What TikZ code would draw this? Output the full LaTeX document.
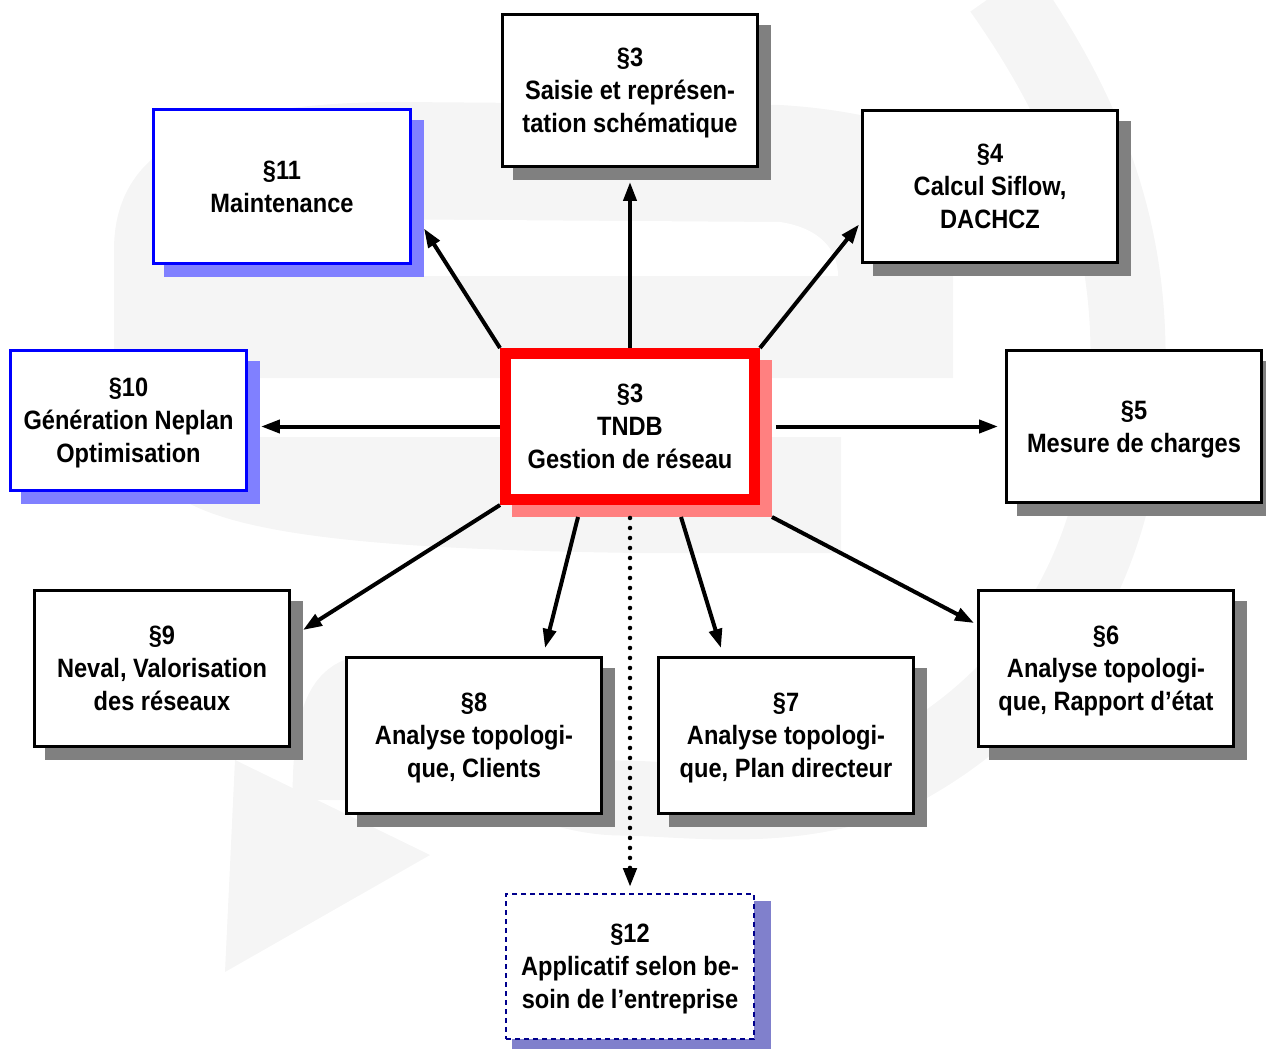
\documentclass[tikz,border=0pt]{standalone}
\usepackage{fontspec}
\newfontfamily\boxfont{Liberation Sans}[FakeStretch=0.89]
\usetikzlibrary{arrows.meta, backgrounds}

\definecolor{logogray}{HTML}{F5F5F5}
\definecolor{shadegray}{HTML}{808080}
\definecolor{lightblue}{HTML}{8080FF}
\definecolor{lightred}{HTML}{FF8080}
\definecolor{lavender}{HTML}{8080CC}
\definecolor{darkblue}{HTML}{00008C}

\begin{document}
\begin{tikzpicture}[x=0.02cm, y=-0.02cm,
    box/.style={draw, line width=0.06cm, fill=white, align=center, inner sep=0pt, text depth=0pt,
        minimum width=5.1cm, minimum height=3.04cm,
        font={\boxfont\bfseries\fontsize{15.1pt}{18.8pt}\selectfont}},
    bluebox/.style={box, draw=blue},
    arr/.style={-{Triangle[length=0.38cm, width=0.26cm]}, line width=0.08cm},
    dotarr/.style={arr, line width=0.09cm, line cap=round, dash pattern=on 0pt off 0.2cm}]
    \useasboundingbox (0,0) rectangle (1266,1050);

    \begin{scope}[on background layer]
        \fill[logogray] (114,378) -- (114,250) .. controls (114,150) and (200,102) .. (400,102)
            -- (780,105) .. controls (900,112) and (1000,150) .. (1070,230)
            -- (1000,276) -- (953,276) -- (953,378) -- cycle;
        \fill[white] (200,218) -- (780,222) .. controls (820,228) and (838,250) .. (838,276) -- (200,276) -- cycle;
        \fill[logogray] (150,437) -- (841,437) -- (841,553) -- (640,553)
            .. controls (420,550) and (250,540) .. (183,500) .. controls (160,485) and (150,470) .. (150,437) -- cycle;
        \draw[logogray, line width=1.5cm] (1001,-10) .. controls (1100,130) and (1140,260) .. (1125,420)
            .. controls (1110,580) and (1030,700) .. (900,770) .. controls (800,815) and (700,800) .. (625,798)
            .. controls (450,800) and (330,560) .. (330,800);
        \fill[logogray] (235,760) -- (225,972) -- (430,855) -- cycle;
    \end{scope}

    \node[box]                                          (sai)   at (630,90.5)   {§3\\Saisie et représen-\\tation schématique};
    \node[bluebox, minimum width=5.14cm, minimum height=3.08cm] (maint) at (282,186.5) {§11\\Maintenance};
    \node[box]                                          (calc)  at (990,186.5)  {§4\\Calcul Siflow,\\DACHCZ};
    \node[bluebox, minimum width=4.72cm, minimum height=2.8cm]  (gen)   at (128.5,420.5) {§10\\Génération Neplan\\Optimisation};
    \node[box, draw=red, line width=0.22cm, minimum width=4.98cm, minimum height=2.92cm] (ctr) at (630,426.5) {§3\\TNDB\\Gestion de réseau};
    \node[box]                                          (mes)   at (1134,426.5) {§5\\Mesure de charges};
    \node[box, minimum height=3.12cm]                   (nev)   at (162,668.5)  {§9\\Neval, Valorisation\\des réseaux};
    \node[box, minimum height=3.12cm]                   (ana8)  at (474,735.5)  {§8\\Analyse topologi-\\que, Clients};
    \node[box, minimum height=3.12cm]                   (ana7)  at (786,735.5)  {§7\\Analyse topologi-\\que, Plan directeur};
    \node[box, minimum height=3.12cm]                   (ana6)  at (1106,668.5) {§6\\Analyse topologi-\\que, Rapport d’état};
    \node[box, draw=darkblue, line width=0.04cm, dash pattern=on 0.1cm off 0.08cm,
          minimum width=4.96cm, minimum height=2.9cm]   (app)   at (630,966.5)  {§12\\Applicatif selon be-\\soin de l’entreprise};

    \begin{scope}[on background layer]
        \foreach \n/\c in {sai/shadegray, calc/shadegray, mes/shadegray, nev/shadegray, ana8/shadegray,
                ana7/shadegray, ana6/shadegray, maint/lightblue, gen/lightblue, ctr/lightred}
            \fill[\c] ([shift={(12,12)}]\n.north west) rectangle ([shift={(12,12)}]\n.south east);
        \fill[lavender] ([shift={(7,8)}]app.north west) rectangle ([shift={(16,9)}]app.south east);
    \end{scope}

    \draw[arr, shorten >=0.28cm] (ctr) -- (sai);
    \draw[arr] (ctr.north west) -- ([shift={(12,42)}]maint.east);
    \draw[arr] (ctr.north east) -- ([shift={(-2,38)}]calc.west);
    \draw[arr, shorten >=0.26cm] (ctr.west) -- (ctr.west -| gen.east);
    \draw[arr, shorten <=0.32cm, shorten >=0.14cm] (ctr.east) -- (mes.west);
    \draw[arr] (ctr.south west) -- ([shift={(12,41)}]nev.north east);
    \draw[arr] ([shift={(-52,12)}]ctr.south) -- ([shift={(71,-8)}]ana8.north);
    \draw[arr] ([shift={(51,12)}]ctr.south) -- ([shift={(-65,-8)}]ana7.north);
    \draw[arr] ([shift={(12,12)}]ctr.south east) -- ([shift={(-3,34)}]ana6.north west);
    \draw[dotarr, shorten <=0.26cm, shorten >=0.12cm] (ctr.south) -- (app.north);
\end{tikzpicture}
\end{document}
